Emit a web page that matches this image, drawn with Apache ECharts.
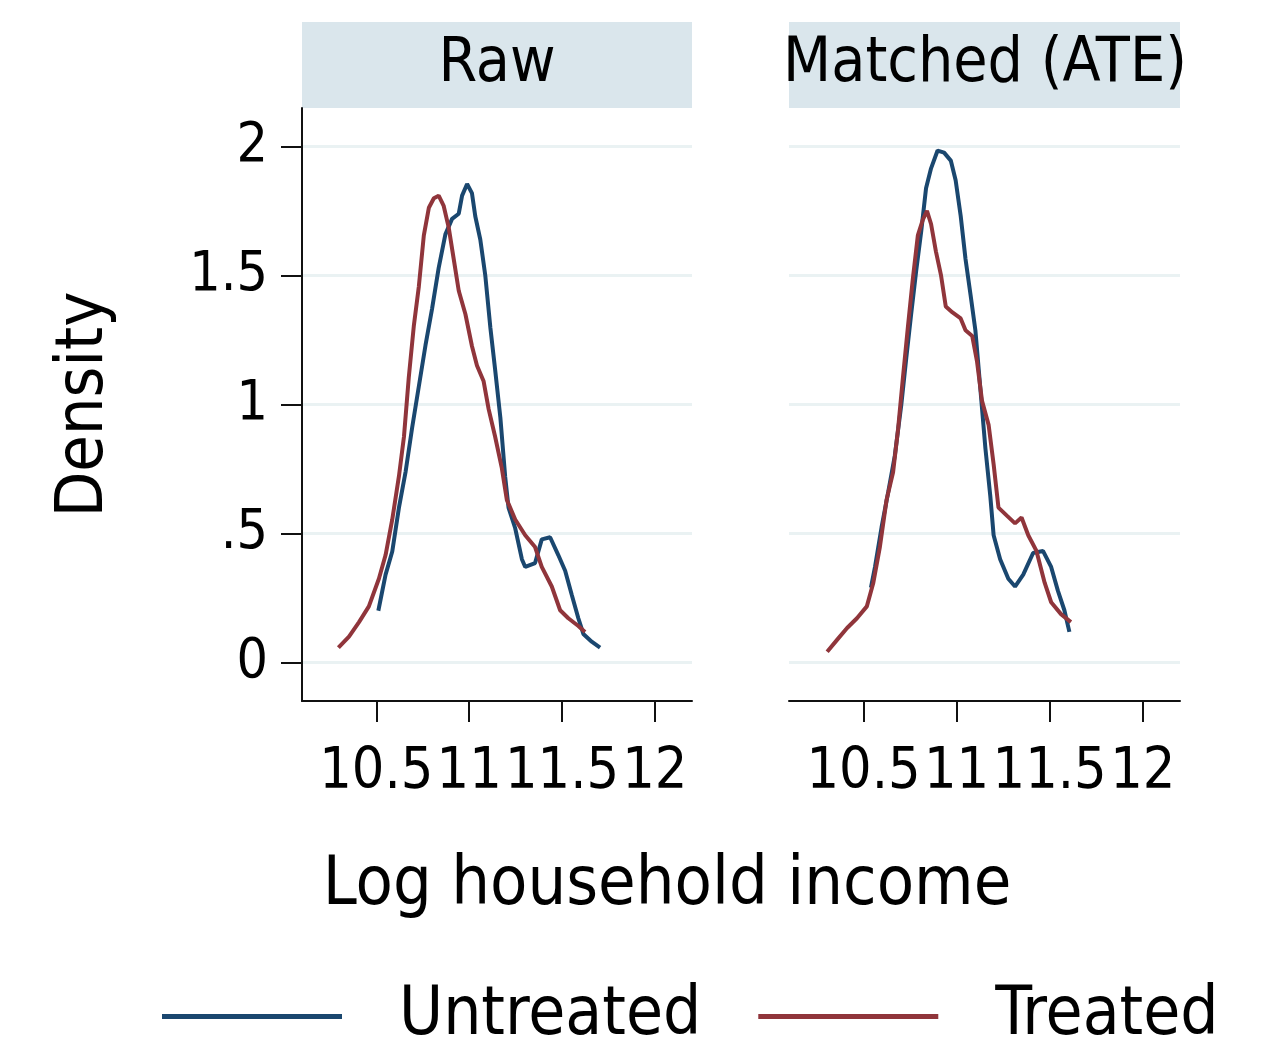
<!DOCTYPE html>
<html>
<head>
<meta charset="utf-8">
<script src="https://cdn.jsdelivr.net/npm/echarts@6/dist/echarts.min.js"></script>
<style>
  html, body { margin: 0; padding: 0; background: #fff; }
  #chart { width: 1272px; height: 1048px; }
</style>
</head>
<body>
<div id="chart"></div>
<script>
// density curves, [log income, density]
var rawUntreated = [
  [10.511, 0.20], [10.55, 0.34], [10.586, 0.43], [10.622, 0.60], [10.658, 0.74],
  [10.693, 0.91], [10.729, 1.07], [10.765, 1.23], [10.80, 1.37], [10.836, 1.53],
  [10.872, 1.66], [10.908, 1.72], [10.944, 1.74], [10.962, 1.81], [10.989, 1.855],
  [11.015, 1.82], [11.033, 1.73], [11.06, 1.64], [11.087, 1.50], [11.114, 1.30],
  [11.14, 1.135], [11.168, 0.95], [11.194, 0.72], [11.212, 0.60], [11.248, 0.52],
  [11.284, 0.40], [11.302, 0.37], [11.355, 0.385], [11.391, 0.477], [11.436, 0.485],
  [11.48, 0.416], [11.517, 0.355], [11.552, 0.263], [11.588, 0.171], [11.615, 0.11],
  [11.66, 0.08], [11.705, 0.057]
];
var rawTreated = [
  [10.296, 0.057], [10.353, 0.10], [10.407, 0.156], [10.46, 0.217], [10.514, 0.324],
  [10.55, 0.416], [10.586, 0.554], [10.622, 0.722], [10.649, 0.875], [10.675, 1.105],
  [10.702, 1.304], [10.729, 1.457], [10.756, 1.656], [10.783, 1.763], [10.81, 1.80],
  [10.836, 1.81], [10.863, 1.77], [10.89, 1.686], [10.917, 1.564], [10.944, 1.441],
  [10.98, 1.35], [11.015, 1.227], [11.042, 1.151], [11.078, 1.09], [11.105, 0.982],
  [11.14, 0.875], [11.176, 0.753], [11.203, 0.63], [11.248, 0.554], [11.302, 0.493],
  [11.355, 0.447], [11.391, 0.37], [11.445, 0.294], [11.49, 0.202], [11.534, 0.171],
  [11.588, 0.141], [11.624, 0.118]
];
var matchedUntreated = [
  [10.54, 0.29], [10.562, 0.37], [10.597, 0.523], [10.633, 0.661], [10.668, 0.80],
  [10.703, 0.998], [10.73, 1.181], [10.756, 1.35], [10.783, 1.518], [10.81, 1.671],
  [10.836, 1.839], [10.863, 1.916], [10.898, 1.985], [10.933, 1.977], [10.969, 1.946],
  [10.995, 1.87], [11.022, 1.732], [11.048, 1.564], [11.075, 1.426], [11.101, 1.288],
  [11.128, 1.059], [11.155, 0.829], [11.181, 0.646], [11.199, 0.493], [11.234, 0.40],
  [11.278, 0.324], [11.314, 0.294], [11.358, 0.34], [11.411, 0.424], [11.464, 0.432],
  [11.508, 0.37], [11.544, 0.278], [11.579, 0.202], [11.606, 0.118]
];
var matchedTreated = [
  [10.305, 0.041], [10.358, 0.087], [10.412, 0.133], [10.465, 0.171], [10.518, 0.217],
  [10.553, 0.309], [10.588, 0.447], [10.624, 0.63], [10.659, 0.737], [10.686, 0.906],
  [10.712, 1.105], [10.739, 1.304], [10.765, 1.487], [10.792, 1.656], [10.819, 1.717],
  [10.841, 1.751], [10.863, 1.70], [10.889, 1.594], [10.916, 1.503], [10.942, 1.38],
  [10.978, 1.357], [11.022, 1.334], [11.048, 1.288], [11.084, 1.266], [11.11, 1.166],
  [11.137, 1.013], [11.172, 0.921], [11.199, 0.768], [11.225, 0.60], [11.27, 0.569],
  [11.314, 0.539], [11.349, 0.562], [11.385, 0.493], [11.429, 0.432], [11.473, 0.309],
  [11.508, 0.233], [11.561, 0.187], [11.614, 0.156]
];
var xTicks = [10.5, 11, 11.5, 12];
var yTicks = [0, 0.5, 1, 1.5, 2];
var panelNames = ['Raw', 'Matched (ATE)'];

var font = "'DejaVu Sans Condensed', 'DejaVu Sans', sans-serif";
var navy = '#1a476f';
var maroon = '#90353b';
var axisColor = '#111';

var myChart = echarts.init(document.getElementById('chart'));

function xAxisFor(idx) {
    return {
        type: 'value', gridIndex: idx, min: 10.1, max: 12.2,
        axisLine: { show: true, onZero: false, lineStyle: { color: axisColor, width: 2 } },
        axisTick: { show: true, length: 21, customValues: xTicks, lineStyle: { color: axisColor, width: 2 } },
        axisLabel: {
            customValues: xTicks, margin: 44, color: '#000',
            fontFamily: font, fontSize: 57,
            formatter: function (v) { return String(v); }
        },
        splitLine: { show: false }
    };
}

function yAxisFor(idx) {
    var first = idx === 0;
    return {
        type: 'value', gridIndex: idx, min: -0.15, max: 2.15,
        name: first ? 'Density' : '', nameLocation: 'middle', nameGap: 184, nameRotate: 90,
        nameTextStyle: { fontFamily: font, fontSize: 66, color: '#000' },
        axisLine: { show: first, lineStyle: { color: axisColor, width: 2 } },
        axisTick: { show: first, length: 21, customValues: yTicks, lineStyle: { color: axisColor, width: 2 } },
        axisLabel: {
            show: first, customValues: yTicks, margin: 34, color: '#000',
            fontFamily: font, fontSize: 55,
            formatter: function (v) { return v === 0 ? '0' : String(v).replace(/^0/, ''); }
        },
        splitLine: { show: true, lineStyle: { color: '#eaf2f3', width: 3 } }
    };
}

function curve(name, data, idx, color) {
    return {
        name: name, type: 'line', data: data,
        xAxisIndex: idx, yAxisIndex: idx,
        showSymbol: false, smooth: false,
        lineStyle: { color: color, width: 4 },
        itemStyle: { color: color }
    };
}

var option = {
    backgroundColor: '#fff',
    animation: false,
    grid: [
        { left: 302, top: 108, width: 390, height: 593 },
        { left: 789, top: 108, width: 391, height: 593 }
    ],
    xAxis: [xAxisFor(0), xAxisFor(1)],
    yAxis: [yAxisFor(0), yAxisFor(1)],
    legend: {
        data: ['Untreated', 'Treated'],
        left: 157, top: 978,
        icon: 'rect', itemWidth: 180, itemHeight: 5, itemGap: 57,
        textStyle: { fontFamily: font, fontSize: 67, color: '#000', padding: [0, 0, 0, 52] }
    },
    graphic: [
        { type: 'rect', shape: { x: 302, y: 22, width: 390, height: 86 }, style: { fill: '#dae6ec' } },
        { type: 'rect', shape: { x: 789, y: 22, width: 391, height: 86 }, style: { fill: '#dae6ec' } },
        { type: 'text', x: 497, y: 65, style: { text: panelNames[0], font: '62px ' + font, fill: '#000', textAlign: 'center', textVerticalAlign: 'middle' } },
        { type: 'text', x: 985, y: 65, style: { text: panelNames[1], font: '62px ' + font, fill: '#000', textAlign: 'center', textVerticalAlign: 'middle' } },
        { type: 'text', x: 667, y: 886, style: { text: 'Log household income', font: '68px ' + font, fill: '#000', textAlign: 'center', textVerticalAlign: 'middle' } }
    ],
    series: [
        curve('Untreated', rawUntreated, 0, navy),
        curve('Treated', rawTreated, 0, maroon),
        curve('Untreated', matchedUntreated, 1, navy),
        curve('Treated', matchedTreated, 1, maroon)
    ]
};

myChart.setOption(option);
</script>
</body>
</html>
